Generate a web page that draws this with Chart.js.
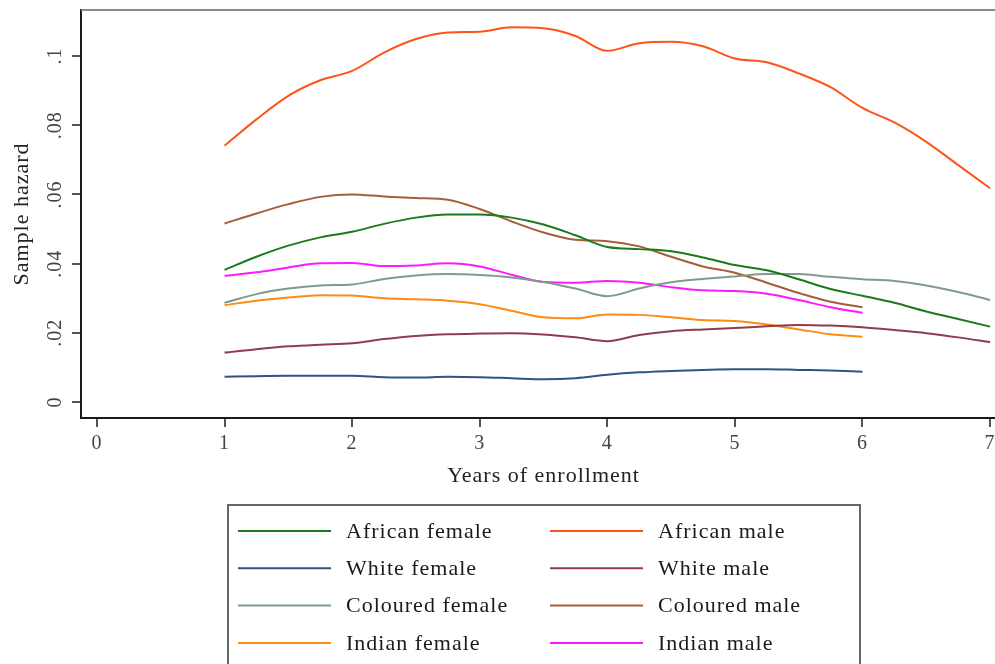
<!DOCTYPE html>
<html>
<head>
<meta charset="utf-8">
<script src="https://cdn.jsdelivr.net/npm/chart.js@4/dist/chart.umd.min.js"></script>
<style>
  html, body { margin: 0; padding: 0; background: #fff; overflow: hidden; }
  #wrap { position: absolute; left: 0; top: 0; width: 1020px; height: 664px; }
</style>
</head>
<body>
<div id="wrap"><canvas id="c" width="1020" height="664"></canvas></div>
<script>
// years of enrollment (shared grid)
const years = [1, 1.25, 1.5, 1.75, 2, 2.25, 2.5, 2.75, 3, 3.25, 3.5, 3.75, 4,
  4.25, 4.5, 4.75, 5, 5.25, 5.5, 5.75, 6, 6.25, 6.5, 6.75, 7];

const africanFemale = [0.0382, 0.0420, 0.0452, 0.0476, 0.0492, 0.0515, 0.0533, 0.0542, 0.0542, 0.0533, 0.0513, 0.0482, 0.0448,
  0.0442, 0.0436, 0.0418, 0.0396, 0.0381, 0.0355, 0.0327, 0.0307, 0.0287, 0.0262, 0.0240, 0.0218];
const africanMale = [0.0741, 0.0817, 0.0885, 0.0930, 0.0957, 0.1010, 0.1049, 0.1068, 0.1070, 0.1083, 0.1080, 0.1058, 0.1015,
  0.1037, 0.1041, 0.1028, 0.0993, 0.0982, 0.0950, 0.0910, 0.0850, 0.0808, 0.0752, 0.0685, 0.0618];
const whiteFemale = [0.0073, 0.0075, 0.0076, 0.0076, 0.0076, 0.0072, 0.0071, 0.0073, 0.0072, 0.0069, 0.0066, 0.0069, 0.0079,
  0.0086, 0.0090, 0.0093, 0.0095, 0.0095, 0.0093, 0.0091, 0.0088];
const whiteMale = [0.0143, 0.0153, 0.0161, 0.0166, 0.0170, 0.0182, 0.0191, 0.0196, 0.0198, 0.0199, 0.0195, 0.0187, 0.0176,
  0.0194, 0.0205, 0.0210, 0.0214, 0.0219, 0.0223, 0.0221, 0.0216, 0.0208, 0.0199, 0.0187, 0.0173];
const colouredFemale = [0.0287, 0.0312, 0.0328, 0.0337, 0.0340, 0.0356, 0.0366, 0.0370, 0.0367, 0.0360, 0.0347, 0.0328, 0.0306,
  0.0328, 0.0346, 0.0356, 0.0363, 0.0370, 0.0370, 0.0362, 0.0355, 0.0350, 0.0337, 0.0318, 0.0295];
const colouredMale = [0.0516, 0.0545, 0.0572, 0.0593, 0.0600, 0.0594, 0.0590, 0.0585, 0.0558, 0.0522, 0.0490, 0.0469, 0.0465,
  0.0450, 0.0420, 0.0392, 0.0374, 0.0345, 0.0315, 0.0290, 0.0274];
const indianFemale = [0.0280, 0.0293, 0.0302, 0.0309, 0.0308, 0.0300, 0.0297, 0.0293, 0.0283, 0.0264, 0.0245, 0.0242, 0.0253,
  0.0252, 0.0245, 0.0237, 0.0234, 0.0224, 0.0210, 0.0196, 0.0189];
const indianMale = [0.0365, 0.0375, 0.0389, 0.0401, 0.0402, 0.0393, 0.0395, 0.0401, 0.0392, 0.0368, 0.0347, 0.0345, 0.0350,
  0.0345, 0.0332, 0.0323, 0.0321, 0.0313, 0.0295, 0.0274, 0.0258];

const seriesNames = ["African female", "African male", "White female", "White male",
  "Coloured female", "Coloured male", "Indian female", "Indian male"];
const seriesValues = [africanFemale, africanMale, whiteFemale, whiteMale,
  colouredFemale, colouredMale, indianFemale, indianMale];
const seriesColors = ["#1b7a1b", "#ff5419", "#2b5585", "#8f3d4c",
  "#7f9b8c", "#a65d3b", "#ff8a14", "#ff19ff"];

const xTicks = [0, 1, 2, 3, 4, 5, 6, 7];
const yTicks = [0, 0.02, 0.04, 0.06, 0.08, 0.1];

const serif = "'Liberation Serif', 'Times New Roman', serif";

const datasets = seriesNames.map((name, i) => ({
  label: name,
  data: seriesValues[i].map((v, j) => ({ x: years[j], y: v })),
  borderColor: seriesColors[i],
  backgroundColor: seriesColors[i],
  borderWidth: 2,
  pointRadius: 0,
  fill: false,
  tension: 0.4,
  cubicInterpolationMode: "monotone"
}));

const spacing = {
  id: "spacing",
  beforeDraw(chart) { chart.ctx.letterSpacing = "1px"; }
};

const frameAndLegend = {
  id: "frameAndLegend",
  afterDraw(chart) {
    const ctx = chart.ctx;
    const a = chart.chartArea;
    ctx.save();
    // top border of the plot region
    ctx.strokeStyle = "#8a8a8a";
    ctx.lineWidth = 2;
    ctx.beginPath();
    ctx.moveTo(a.left, a.top);
    ctx.lineTo(a.right, a.top);
    ctx.stroke();

    // legend box
    const bx = 228, by = 505, bw = 632, bh = 175;
    ctx.strokeStyle = "#666";
    ctx.lineWidth = 2;
    ctx.strokeRect(bx, by, bw, bh);
    ctx.font = "22px " + serif;
    ctx.fillStyle = "#1a1a1a";
    ctx.textBaseline = "middle";
    ctx.textAlign = "left";
    chart.data.datasets.forEach((ds, i) => {
      const col = i % 2, row = Math.floor(i / 2);
      const lx = col === 0 ? 238 : 550;
      const ly = 531 + row * 37.3;
      ctx.strokeStyle = ds.borderColor;
      ctx.lineWidth = 2;
      ctx.beginPath();
      ctx.moveTo(lx, ly);
      ctx.lineTo(lx + 93, ly);
      ctx.stroke();
      ctx.fillText(ds.label, lx + 108, ly + 1);
    });
    ctx.restore();
  }
};

new Chart(document.getElementById("c"), {
  type: "line",
  data: { datasets },
  plugins: [spacing, frameAndLegend],
  options: {
    responsive: false,
    animation: false,
    devicePixelRatio: 1,
    layout: { padding: { left: 0, top: 10, right: 14, bottom: 174 } },
    plugins: { legend: { display: false }, tooltip: { enabled: false }, title: { display: false } },
    scales: {
      x: {
        type: "linear",
        min: -0.125,
        max: 7.125,
        afterBuildTicks(s) { s.ticks = xTicks.map(v => ({ value: v })); },
        afterFit(s) { s.height = 72; s.paddingLeft = 0; s.paddingRight = 0; },
        ticks: {
          includeBounds: false,
          color: "#444",
          font: { family: serif, size: 20 },
          padding: 5,
          maxRotation: 0
        },
        grid: { drawOnChartArea: false, drawTicks: true, tickLength: 9, tickColor: "#555", lineWidth: 2 },
        border: { display: true, color: "#1a1a1a", width: 2 },
        title: {
          display: true,
          text: "Years of enrollment",
          color: "#222",
          font: { family: serif, size: 22 },
          padding: { top: 0, bottom: 1 }
        }
      },
      y: {
        type: "linear",
        min: -0.0046,
        max: 0.1133,
        afterBuildTicks(s) { s.ticks = yTicks.map(v => ({ value: v })); },
        afterFit(s) { s.width = 81; s.paddingTop = 0; s.paddingBottom = 0; },
        ticks: {
          includeBounds: false,
          color: "#444",
          font: { family: serif, size: 20 },
          minRotation: 90,
          maxRotation: 90,
          crossAlign: "center",
          padding: 4,
          callback(v) {
            if (v === 0) return "0";
            return String(+v.toFixed(2)).replace(/^0/, "");
          }
        },
        grid: { drawOnChartArea: false, drawTicks: true, tickLength: 9, tickColor: "#555", lineWidth: 2 },
        border: { display: true, color: "#1a1a1a", width: 2 },
        title: {
          display: true,
          text: "Sample hazard",
          color: "#222",
          font: { family: serif, size: 22 },
          padding: { top: 9, bottom: 0 }
        }
      }
    }
  }
});
</script>
</body>
</html>
